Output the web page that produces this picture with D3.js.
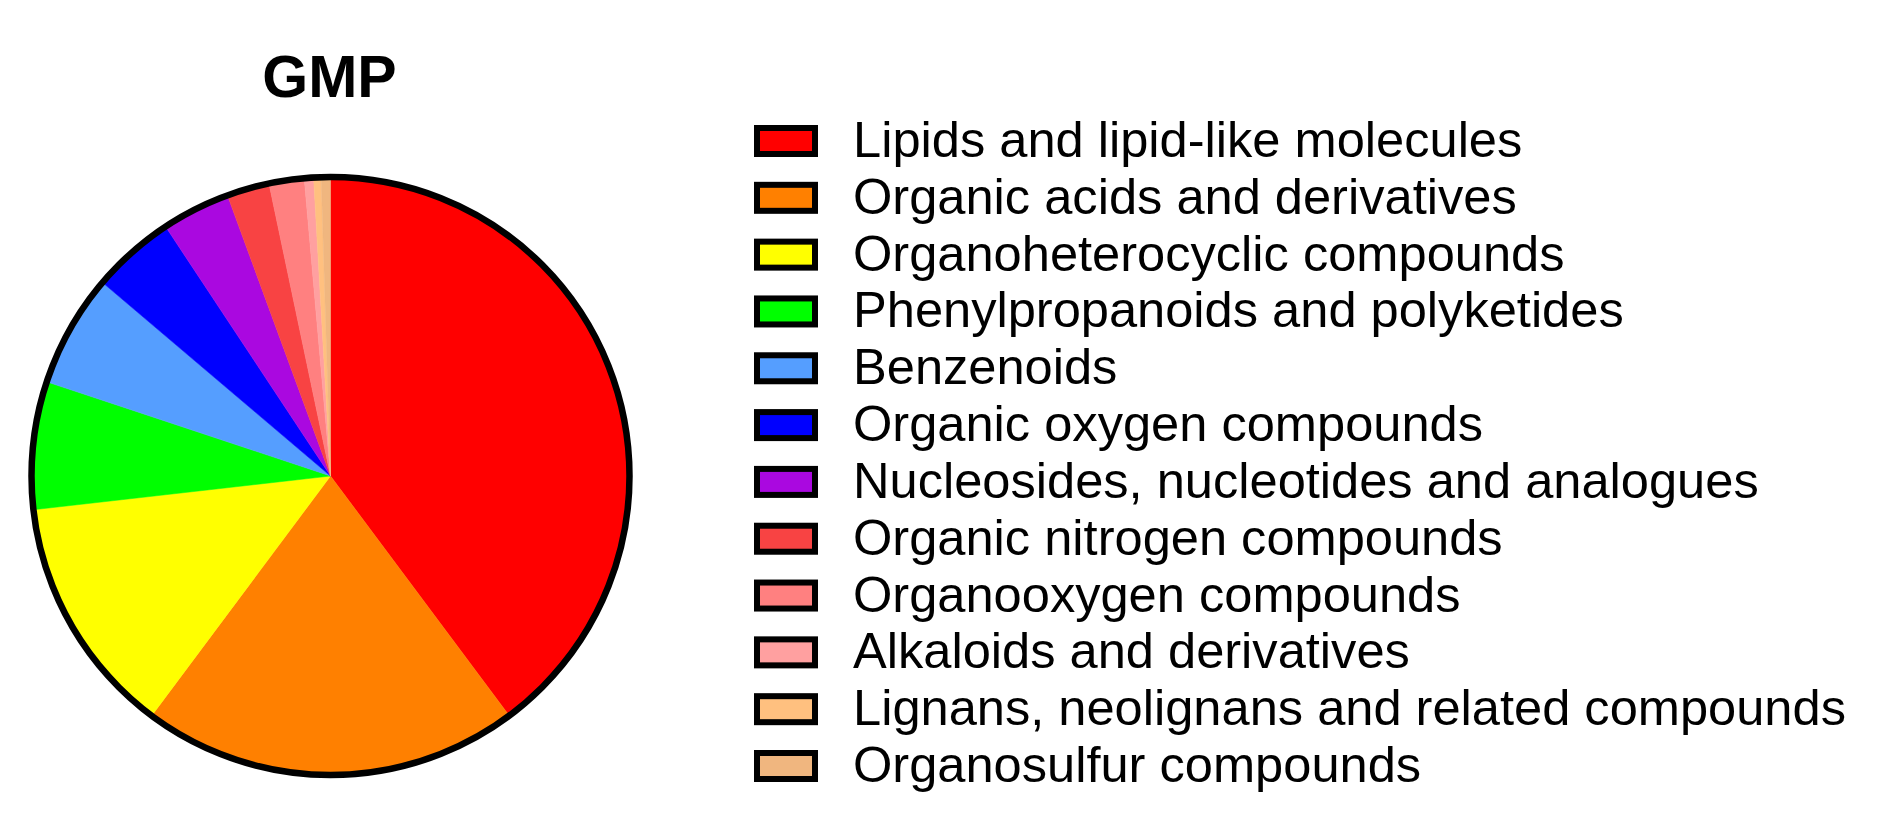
<!DOCTYPE html>
<html>
<head>
<meta charset="utf-8">
<script src="https://cdn.jsdelivr.net/npm/d3@7"></script>
<style>
  html, body { margin: 0; padding: 0; background: #fff; }
  svg { display: block; }
</style>
</head>
<body>
<svg id="chart" width="1888" height="837"></svg>
<script>
const title = "GMP";
const categories = [
  "Lipids and lipid-like molecules",
  "Organic acids and derivatives",
  "Organoheterocyclic compounds",
  "Phenylpropanoids and polyketides",
  "Benzenoids",
  "Organic oxygen compounds",
  "Nucleosides, nucleotides and analogues",
  "Organic nitrogen compounds",
  "Organooxygen compounds",
  "Alkaloids and derivatives",
  "Lignans, neolignans and related compounds",
  "Organosulfur compounds"
];
const values = [39.8, 20.4, 13.0, 6.9, 6.1, 4.5, 3.7, 2.3, 1.9, 0.5, 0.4, 0.5];
const colors = ["#FF0000", "#FF8000", "#FFFF00", "#00FF00", "#559EFF", "#0000FF",
                "#AA08E0", "#F84343", "#FF8080", "#FFA0A0", "#FFC07F", "#F0B67F"];

const svg = d3.select("#chart");
const cx = 330.5, cy = 476, r = 299;

const color = d3.scaleOrdinal().domain(categories).range(colors);
const data = categories.map((c, i) => ({ name: c, value: values[i] }));

const pie = d3.pie().value(d => d.value).sort(null);
const arc = d3.arc().innerRadius(0).outerRadius(r);

const g = svg.append("g").attr("transform", `translate(${cx},${cy})`);
g.selectAll("path.slice")
  .data(pie(data))
  .join("path")
  .attr("class", "slice")
  .attr("d", arc)
  .attr("fill", d => color(d.data.name))
  .attr("stroke", d => color(d.data.name))
  .attr("stroke-width", 0.5);

g.append("circle")
  .attr("r", r)
  .attr("fill", "none")
  .attr("stroke", "#000")
  .attr("stroke-width", 6.5);

svg.append("text")
  .attr("x", 329.5)
  .attr("y", 96.5)
  .attr("text-anchor", "middle")
  .attr("font-family", "Liberation Sans, Arial, sans-serif")
  .attr("font-weight", "bold")
  .attr("font-size", 59)
  .text(title);

const legendY = d3.scalePoint().domain(categories).range([141, 766]);
const legend = svg.append("g");
const rows = legend.selectAll("g.row")
  .data(categories)
  .join("g")
  .attr("class", "row")
  .attr("transform", d => `translate(0,${legendY(d)})`);

rows.append("rect")
  .attr("x", 757)
  .attr("y", -13)
  .attr("width", 58)
  .attr("height", 26)
  .attr("fill", d => color(d))
  .attr("stroke", "#000")
  .attr("stroke-width", 6);

rows.append("text")
  .attr("x", 853)
  .attr("y", 16)
  .attr("font-family", "Liberation Sans, Arial, sans-serif")
  .attr("font-size", 50.6)
  .attr("fill", "#000")
  .text(d => d);
</script>
</body>
</html>
